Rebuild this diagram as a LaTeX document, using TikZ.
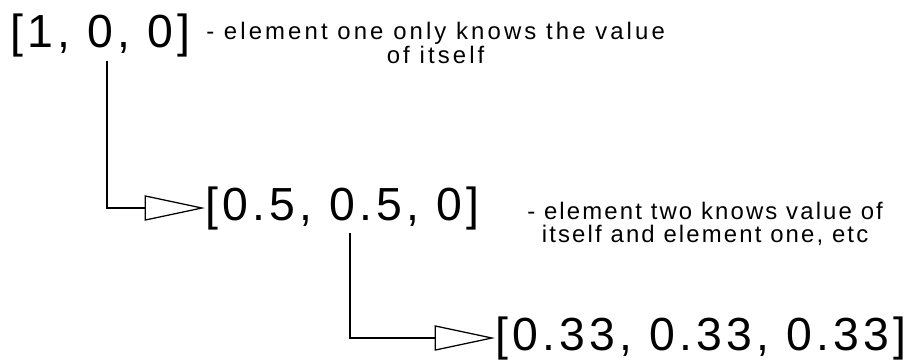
\documentclass[tikz,border=0pt]{standalone}
\usepackage{fontspec}
\setmainfont{Liberation Sans}
\newfontfamily\rowfont[LetterSpace=9]{Liberation Sans}
\newfontfamily\notefont[LetterSpace=9]{Liberation Sans}
\newfontfamily\topnotefont[LetterSpace=13]{Liberation Sans}
\usetikzlibrary{arrows.meta}

\begin{document}
\begin{tikzpicture}[x=0.025cm, y=-0.025cm,
    rowtext/.style={inner sep=0pt, anchor=base west, font=\rowfont\fontsize{33}{40}\selectfont},
    note/.style={inner sep=0pt, anchor=west, align=center},
    link/.style={line width=1.1pt, -{Triangle[open, length=43pt, width=18pt, line width=0.9pt]}}]
  \useasboundingbox (0,0) rectangle (918,363);
  % the three rows
  \node[rowtext] (row1) at (10,47) {[1, 0, 0]};
  \node[rowtext] (row2) at (205,220) {[0.5, 0.5, 0]};
  \node[rowtext] (row3) at (495,350) {[0.33, 0.33, 0.33]};
  % notes
  \node[note, font=\topnotefont\fontsize{17}{10.7}\selectfont] (note1) at (206,43) {- element one only knows the value\\of itself};
  \node[note, font=\notefont\fontsize{17}{16.3}\selectfont] (note2) at (527,224) {- element two knows value of\\itself and element one, etc};
  % links
  \coordinate (tick1) at (107,61);
  \coordinate (tick2) at (350,233);
  \draw[link] (tick1) |- (row2.west);
  \draw[link] (tick2) |- (row3.west);
\end{tikzpicture}
\end{document}
